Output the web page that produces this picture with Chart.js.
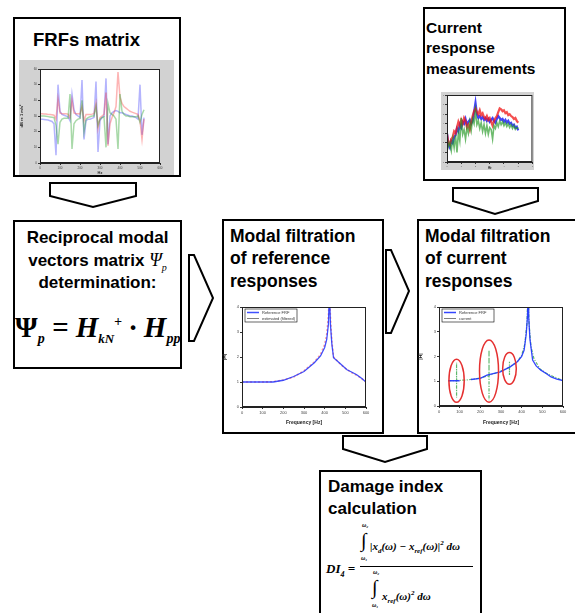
<!DOCTYPE html>
<html>
<head>
<meta charset="utf-8">
<script src="https://cdn.jsdelivr.net/npm/chart.js@4.4.0/dist/chart.umd.min.js"></script>
<style>
  body { margin: 0; background: #fff; width: 575px; height: 613px; overflow: hidden; position: relative;
         font-family: "Liberation Sans", Arial, sans-serif; }
  .box { position: absolute; border: 2px solid #000; box-sizing: border-box; background: #fff; }
  .t { position: absolute; font-weight: bold; color: #000; white-space: nowrap; }
  .m { position: absolute; white-space: nowrap; font-family: "Liberation Serif", "Times New Roman", serif;
       font-style: italic; font-weight: bold; color: #000; }
  .int { position: absolute; font-family: "Liberation Serif", serif; font-size: 20px; line-height: 20px; }
  .lim { position: absolute; font-family: "Liberation Serif", serif; font-style: italic; font-weight: bold;
         font-size: 6px; line-height: 6px; }
  canvas { position: absolute; }
  svg { position: absolute; left: 0; top: 0; }
</style>
</head>
<body>

<svg width="575" height="613">
  <g fill="#fff" stroke="#000" stroke-width="2" stroke-linejoin="miter">
    <polygon points="50,183 136,183 136,196 93,207 50,196"/>
    <polygon points="453,188 538,188 538,201 495,214 453,201"/>
    <polygon points="189,255 194,255 213,298 194,341 189,341"/>
    <polygon points="386,250 391,250 409,291 391,333 386,333"/>
    <polygon points="343,436 427,436 427,449 385,462 343,449"/>
  </g>
</svg>

<div class="box" style="left:13px;top:17px;width:168px;height:160px"></div>
<div class="box" style="left:423px;top:7px;width:143px;height:174px"></div>
<div class="box" style="left:13px;top:220px;width:169px;height:149px"></div>
<div class="box" style="left:222px;top:219px;width:162px;height:215px"></div>
<div class="box" style="left:417px;top:219px;width:170px;height:215px"></div>
<div class="box" style="left:319px;top:470px;width:163px;height:160px"></div>

<div class="t" style="left:33px;top:31px;font-size:18.5px;line-height:18.5px">FRFs matrix</div>

<div class="t" style="left:426px;top:20px;font-size:15.5px;line-height:15.5px">Current</div>
<div class="t" style="left:426px;top:40px;font-size:15.5px;line-height:15.5px">response</div>
<div class="t" style="left:426px;top:61px;font-size:15.5px;line-height:15.5px">measurements</div>

<div class="t" style="left:13px;width:169px;text-align:center;top:229px;font-size:17px;line-height:17px">Reciprocal modal</div>
<div class="t" style="left:13px;width:169px;text-align:center;top:252px;font-size:17px;line-height:17px">vectors matrix <span style="font-family:'Liberation Serif',serif;font-style:italic;font-weight:normal;font-size:18px">Ψ<sub style="font-size:10px">p</sub></span></div>
<div class="t" style="left:13px;width:169px;text-align:center;top:274px;font-size:17px;line-height:17px">determination:</div>
<div class="m" style="left:15px;top:307px;font-size:29px;line-height:29px"><span style="font-style:normal">Ψ</span><sub style="font-size:14px">p</sub> = H<sub style="font-size:13px">kN</sub><sup style="font-size:14px">+</sup> · H<sub style="font-size:14px">pp</sub></div>

<div class="t" style="left:230px;top:228px;font-size:17.5px;line-height:17.5px">Modal filtration</div>
<div class="t" style="left:230px;top:250px;font-size:17.5px;line-height:17.5px">of reference</div>
<div class="t" style="left:230px;top:273px;font-size:17.5px;line-height:17.5px">responses</div>

<div class="t" style="left:425px;top:228px;font-size:17.5px;line-height:17.5px">Modal filtration</div>
<div class="t" style="left:425px;top:250px;font-size:17.5px;line-height:17.5px">of current</div>
<div class="t" style="left:425px;top:273px;font-size:17.5px;line-height:17.5px">responses</div>

<div class="t" style="left:328px;top:478px;font-size:17px;line-height:17px">Damage index</div>
<div class="t" style="left:328px;top:500px;font-size:17px;line-height:17px">calculation</div>

<div class="m" style="left:326px;top:562px;font-size:13px;line-height:13px">DI<sub style="font-size:8px">4</sub> =</div>
<div style="position:absolute;left:360px;top:566px;width:113px;height:1px;background:#000"></div>
<div class="lim" style="left:362px;top:522px">ω₂</div>
<div class="int" style="left:361px;top:530px">∫</div>
<div class="lim" style="left:361px;top:555px">ω₁</div>
<div class="m" style="left:370px;top:538px;font-size:11px;line-height:11px">|x<sub style="font-size:7px">d</sub>(ω) − x<sub style="font-size:7px">ref</sub>(ω)|<sup style="font-size:7px">2</sup> dω</div>
<div class="lim" style="left:373px;top:569px">ω₂</div>
<div class="int" style="left:372px;top:577px">∫</div>
<div class="lim" style="left:372px;top:602px">ω₁</div>
<div class="m" style="left:382px;top:588px;font-size:11px;line-height:11px">x<sub style="font-size:7px">ref</sub>(ω)<sup style="font-size:7px">2</sup> dω</div>

<canvas id="frfCanvas" width="155" height="115" style="left:19px;top:60px;background:#d2d2d2"></canvas>
<canvas id="measCanvas" width="93" height="78" style="left:441px;top:92px;background:#d2d2d2"></canvas>
<canvas id="refCanvas" width="155" height="128" style="left:222px;top:298px"></canvas>
<canvas id="curCanvas" width="155" height="128" style="left:418px;top:298px"></canvas>

<script>
// FRFs matrix panel
const frfFreq = [0,10,20,30,40,50,60,70,80,90,100,110,120,130,140,150,160,170,180,190,200,210,220,230,240,250,
  260,270,280,290,300,310,320,330,340,350,360,370,380,390,400,410,420,430,440,450,460,470,480,490,500,510,520];
const frfBlue = [28,28,27.8,27.6,27.4,27,26.5,25,5,50,33,31,30.5,30,29.5,27,44,34,31,30,29,53,15,27,28,28,28.5,29,
  52,7,27,29,30,54,12,30,32,33,33.5,33,32,32,31.5,31,30.5,30,30,29.5,29,28,50,18,29];
const frfRed = [31.5,31.5,31.3,31.2,31,31,30.8,30.5,28,41,32,31.5,31.5,31.5,31.2,29,40,32,31.5,31.5,31.3,36,27,
  31,31,31,31.2,31.5,38,22,29,30,31,45,11,25,29,32,36,58,42,38,36,35,34,33,32.5,32,31.5,31,27,15,28];
const frfGreen = [30,30,30,29.8,29.6,29.4,29.2,29,24,12,26,28,28.5,28.5,28.5,44,9,25,27,28,28.5,40,20,28,29,29.5,
  30,30,36,24,28,29,29.5,10,38,32,31,30,28,9,44,33,31,30,30,29.5,29.5,29.5,29.5,30,26,31,34];

// Current response measurements panel
const measX = [0,0.1,0.2,0.3,0.4,0.5,0.6,0.7,0.8,0.9,1,1.1,1.2,1.3,1.4,1.5,1.6,1.7,1.8,1.9,2,2.1,2.2,2.3,2.4,2.5,
  2.6,2.7,2.8,2.9,3,3.1,3.2,3.3,3.4,3.5,3.6,3.7,3.8,3.9,4,4.1,4.2,4.3,4.4,4.5,4.6,4.7,4.8,4.9,5];
const measBlue = [3.0,1.8,1.5,2.2,2.0,2.6,2.8,3.5,3.2,3.9,3.6,4.2,4.0,4.5,3.9,4.2,4.4,4.0,4.3,5.2,6.2,5.0,4.6,4.8,
  4.5,4.7,4.4,4.6,4.3,4.5,4.2,4.4,4.6,4.3,4.1,4.5,4.8,4.6,4.4,4.5,4.2,4.4,4.1,4.3,4.0,4.1,3.8,3.9,3.6,3.7,3.3];
const measRed = [2.9,2.0,1.8,2.4,2.6,3.2,3.0,3.6,4.2,3.8,4.4,4.0,4.6,4.3,3.6,3.9,3.4,4.2,4.8,5.3,5.6,5.2,5.0,5.4,
  4.9,5.1,4.7,4.5,4.8,4.4,4.6,4.2,3.8,4.3,4.6,4.8,5.2,5.6,5.5,5.3,5.4,5.1,5.2,4.9,5.0,4.8,4.7,4.5,4.6,4.3,4.1];
const measGreen = [2.6,1.6,2.0,1.2,2.4,1.5,2.8,1.0,3.1,2.2,4.6,2.9,3.4,2.4,3.6,3.0,4.2,3.3,4.5,4.0,5.4,3.9,4.3,3.5,
  4.1,3.2,3.9,3.0,3.8,2.9,3.6,3.4,2.4,3.8,3.5,4.1,3.7,4.3,3.9,4.2,3.8,4.1,3.7,4.0,3.6,3.9,3.5,3.8,3.4,3.6,3.5];

// Modal filtration of reference responses
const refX = [0,50,100,150,200,250,300,350,380,400,410,418,423,428,435,443,480,508,530,555,580,600];
const refBlue = [1,1,1,1,1.07,1.22,1.42,1.77,2.04,2.38,2.7,3.3,4.6,3.3,2.5,1.97,1.7,1.49,1.4,1.29,1.14,1.0];
const refRed = [1,1,1,1.01,1.08,1.2,1.45,1.8,2.1,2.5,2.9,3.6,4.6,3.6,2.6,2.0,1.68,1.5,1.38,1.27,1.13,1.0];
const refLabels = ['Reference FRF', 'estimated (filtered)'];

// Modal filtration of current responses
const curBlueX = [45,100,128,155,200,232,297,346,379,400,412,422,428,431,434,440,453,470,493,520,542,570,600];
const curBlue = [1.02,1.02,null,1.07,1.12,1.25,1.38,1.59,1.79,2.0,2.26,2.9,3.6,4.6,3.6,2.7,1.86,1.62,1.45,1.3,1.18,1.09,1.03];
const curGreenX = [45,85,85,85,85,130,180,242,242,242,242,290,341,341,341,341,380,400,415,425,431,436,445,460,490,520,550,600];
const curGreen = [1.02,1.02,1.75,0.34,1.03,1.05,1.1,1.22,2.26,0.23,1.23,1.38,1.56,1.79,1.25,1.57,1.8,2.05,2.5,3.3,4.6,3.3,2.4,1.9,1.48,1.32,1.2,1.03];
const curLabels = ['Reference FRF', 'current'];
const ellX = [85, 242, 341];
const ellY = [1.02, 1.41, 1.52];
const ellRx = [37, 46, 33];
const ellRy = [0.87, 1.26, 0.64];

const whiteArea = {
  id: 'whiteArea',
  beforeDraw(chart) {
    const { ctx, chartArea: a } = chart;
    ctx.save();
    ctx.fillStyle = '#fff';
    ctx.fillRect(a.left, a.top, a.right - a.left, a.bottom - a.top);
    ctx.restore();
  }
};

const frame = {
  id: 'frame',
  afterDraw(chart) {
    const { ctx, chartArea: a } = chart;
    ctx.save();
    ctx.strokeStyle = '#222';
    ctx.lineWidth = 1;
    ctx.strokeRect(a.left + 0.5, a.top + 0.5, a.right - a.left - 1, a.bottom - a.top - 1);
    ctx.restore();
  }
};

// small legend box inside the top-left corner of the plot
const cornerLegend = {
  id: 'cornerLegend',
  afterDraw(chart) {
    const { ctx, chartArea: a } = chart;
    const x = a.left + 3, y = a.top + 2;
    ctx.save();
    ctx.fillStyle = '#fff';
    ctx.strokeStyle = '#000';
    ctx.lineWidth = 0.6;
    ctx.fillRect(x, y, 52, 13);
    ctx.strokeRect(x, y, 52, 13);
    ctx.font = '4px "Liberation Sans"';
    ctx.textBaseline = 'middle';
    chart.data.datasets.forEach((ds, i) => {
      const ly = y + 3.5 + i * 6;
      ctx.strokeStyle = i === 0 ? ds.borderColor : '#000';
      ctx.lineWidth = i === 0 ? 1.5 : 0.5;
      ctx.beginPath();
      ctx.moveTo(x + 2, ly);
      ctx.lineTo(x + 14, ly);
      ctx.stroke();
      ctx.fillStyle = '#333';
      ctx.fillText(ds.label, x + 17, ly);
    });
    ctx.restore();
  }
};

const ellipses = {
  id: 'ellipses',
  afterDatasetsDraw(chart) {
    const { ctx, scales: { x, y } } = chart;
    ctx.save();
    ctx.strokeStyle = '#e53030';
    ctx.lineWidth = 1.5;
    ellX.forEach((cx, i) => {
      const px = x.getPixelForValue(cx);
      const py = y.getPixelForValue(ellY[i]);
      const rx = Math.abs(x.getPixelForValue(cx + ellRx[i]) - px);
      const ry = Math.abs(y.getPixelForValue(ellY[i] + ellRy[i]) - py);
      ctx.beginPath();
      ctx.ellipse(px, py, rx, ry, 0, 0, Math.PI * 2);
      ctx.stroke();
    });
    ctx.restore();
  }
};

const pts = (xs, ys) => xs.map((x, i) => ({ x, y: ys[i] }));

const axis = (min, max, step, size, title, fixed) => ({
  type: 'linear',
  min, max,
  ticks: { stepSize: step, font: { size: size }, color: '#444', padding: 1 },
  grid: { display: true, drawOnChartArea: false, tickLength: 2, color: '#333' },
  border: { color: '#222' },
  title: { display: !!title, text: title, font: { size: size + 1, weight: 'bold' }, padding: 0, color: '#222' },
  afterFit: fixed
});

const baseOptions = (padding, xAxis, yAxis) => ({
  animation: false,
  responsive: false,
  devicePixelRatio: 1,
  layout: { padding },
  plugins: { legend: { display: false }, tooltip: { enabled: false } },
  scales: { x: xAxis, y: yAxis }
});

new Chart(document.querySelector('#frfCanvas').getContext('2d'), {
  type: 'line',
  data: {
    datasets: [
      { label: 'H1', data: pts(frfFreq, frfGreen), borderColor: 'rgba(40,160,40,0.4)', borderWidth: 1.5, pointRadius: 0, tension: 0 },
      { label: 'H2', data: pts(frfFreq, frfRed), borderColor: 'rgba(250,40,40,0.35)', borderWidth: 1.5, pointRadius: 0, tension: 0 },
      { label: 'H3', data: pts(frfFreq, frfBlue), borderColor: 'rgba(40,40,250,0.35)', borderWidth: 1.5, pointRadius: 0, tension: 0 }
    ]
  },
  options: baseOptions({ top: 9, right: 14, left: 0, bottom: 0 },
    axis(0, 600, 100, 3, 'Hz', s => { s.height = 12; }),
    axis(0, 60, 10, 3, 'dB re 1 m/s²', s => { s.width = 21; })),
  plugins: [whiteArea, frame]
});

new Chart(document.querySelector('#measCanvas').getContext('2d'), {
  type: 'line',
  data: {
    datasets: [
      { label: 'ch1', data: pts(measX, measGreen), borderColor: 'rgba(30,150,30,0.65)', borderWidth: 1.6, pointRadius: 0 },
      { label: 'ch2', data: pts(measX, measRed), borderColor: 'rgba(240,20,20,0.75)', borderWidth: 2.2, pointRadius: 0 },
      { label: 'ch3', data: pts(measX, measBlue), borderColor: 'rgba(20,20,245,0.8)', borderWidth: 2.2, pointRadius: 0 }
    ]
  },
  options: baseOptions({ top: 3, right: 1, left: 0, bottom: 0 },
    axis(0, 6, 1, 2, 'Hz', s => { s.height = 8; }),
    axis(0, 7, 1, 2, '', s => { s.width = 6; })),
  plugins: [whiteArea, frame]
});

new Chart(document.querySelector('#refCanvas').getContext('2d'), {
  type: 'line',
  data: {
    datasets: [
      { label: refLabels[0], data: pts(refX, refBlue), borderColor: 'rgba(30,50,255,0.85)', borderWidth: 1.3, pointRadius: 0 },
      { label: refLabels[1], data: pts(refX, refRed), borderColor: 'rgba(255,70,70,0.55)', borderWidth: 1.6, borderDash: [2, 2], pointRadius: 0 }
    ]
  },
  options: baseOptions({ top: 9, right: 11, left: 0, bottom: 0 },
    axis(0, 600, 100, 4, 'Frequency [Hz]', s => { s.height = 19; }),
    axis(0, 4, 1, 4, '|H|', s => { s.width = 20; })),
  plugins: [frame, cornerLegend]
});

new Chart(document.querySelector('#curCanvas').getContext('2d'), {
  type: 'line',
  data: {
    datasets: [
      { label: curLabels[0], data: pts(curBlueX, curBlue), borderColor: 'rgba(30,50,255,0.9)', borderWidth: 1.3, pointRadius: 0, spanGaps: false },
      { label: curLabels[1], data: pts(curGreenX, curGreen), borderColor: 'rgba(40,160,60,0.75)', borderWidth: 1.2, borderDash: [3, 1.5, 1, 1.5], pointRadius: 0 }
    ]
  },
  options: baseOptions({ top: 9, right: 10, left: 0, bottom: 0 },
    axis(0, 600, 100, 4, 'Frequency [Hz]', s => { s.height = 20; }),
    axis(0, 4, 1, 4, '|H|', s => { s.width = 21; })),
  plugins: [frame, ellipses, cornerLegend]
});
</script>
</body>
</html>
